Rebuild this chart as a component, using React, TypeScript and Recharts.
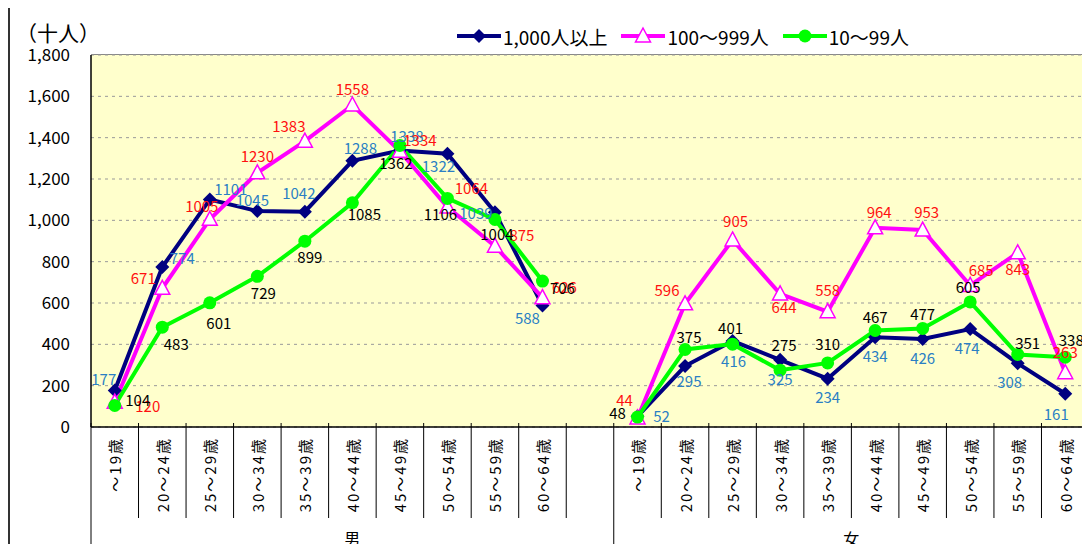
import React from 'react'
import { LineChart, Line, XAxis, YAxis, CartesianGrid, LabelList } from 'recharts'

const ageGroups = ['～19歳', '20～24歳', '25～29歳', '30～34歳', '35～39歳', '40～44歳', '45～49歳', '50～54歳', '55～59歳', '60～64歳']
const yTicks = [0, 200, 400, 600, 800, 1000, 1200, 1400, 1600, 1800]

// 男
const male1000 = [177, 774, 1101, 1045, 1042, 1288, 1338, 1322, 1039, 588]
const male100 = [120, 671, 1005, 1230, 1383, 1558, 1334, 1064, 875, 626]
const male10 = [104, 483, 601, 729, 899, 1085, 1362, 1106, 1004, 706]
// 女
const female1000 = [52, 295, 416, 325, 234, 434, 426, 474, 308, 161]
const female100 = [44, 596, 905, 644, 558, 964, 953, 685, 843, 263]
const female10 = [48, 375, 401, 275, 310, 467, 477, 605, 351, 338]

// data label nudges [dx, dy] (Excel placed each label by hand)
const largeOffM = [[-11, -12], [20, -10], [21, -11], [-5, -12], [-6, -19], [8, -13], [7, -15], [-9, 12], [-19, 0], [-15, 12]]
const largeOffF = [[24, -1], [4, 14], [1, 19], [0, 19], [0, 18], [0, 18], [0, 19], [-3, 18], [-8, 18], [-9, 20]]
const midOffM = [[33, 3], [-19, -11], [-8, -14], [0, -17], [-16, -16], [0, -17], [20, -12], [24, -20], [27, -12], [22, -11]]
const midOffF = [[-13, -18], [-18, -14], [3, -19], [4, 13], [0, -22], [4, -16], [4, -19], [11, -16], [0, 16], [0, -21]]
const smallOffM = [[23, -6], [14, 16], [9, 20], [6, 16], [5, 15], [12, 11], [-4, 17], [-7, 15], [2, 14], [20, 6]]
const smallOffF = [[-20, -5], [4, -13], [-2, -17], [4, -26], [0, -19], [0, -14], [0, -15], [-2, -15], [10, -12], [6, -18]]

const rows = [
  ...ageGroups.map((age, i) => ({ age, gender: '男', large: male1000[i], mid: male100[i], small: male10[i] })),
  { age: '', gender: '男', large: null, mid: null, small: null },
  ...ageGroups.map((age, i) => ({ age, gender: '女', large: female1000[i], mid: female100[i], small: female10[i] })),
]
const join = (a, b) => [...a, null, ...b]
const largeOff = join(largeOffM, largeOffF)
const midOff = join(midOffM, midOffF)
const smallOff = join(smallOffM, smallOffF)

const FONT = "'Noto Sans CJK JP', 'Noto Sans', sans-serif"
const W = 1080
const H = 546
const Y_AXIS_W = 81
const X_AXIS_H = 127
const PLOT_W = W - Y_AXIS_W - 1
const STEP = PLOT_W / rows.length

const NAVY = '#000080'
const MAGENTA = '#ff00ff'
const GREEN = '#00ff00'
const BLUE_TEXT = '#2a7fc4'
const RED_TEXT = '#ff1010'

function AgeTick(props) {
  const { x, y, payload } = props
  const i = props.index ?? payload.index
  const row = rows[i]
  if (!row) return null
  const half = STEP / 2
  const groupStart = i === 0 || rows[i - 1].gender !== row.gender
  const groupSize = rows.filter((r) => r.gender === row.gender).length
  const last = i === rows.length - 1
  return (
    <g>
      <line x1={x - half} x2={x - half} y1={y - 4} y2={groupStart ? y + X_AXIS_H : y + 91} stroke="#000" strokeWidth={1} />
      {last && <line x1={x + half} x2={x + half} y1={y - 4} y2={y + X_AXIS_H} stroke="#000" strokeWidth={1} />}
      <text
        x={x}
        y={y + 10}
        transform={`rotate(-90 ${x} ${y + 10})`}
        textAnchor="end"
        dominantBaseline="central"
        fontSize={15}
        letterSpacing={2}
        fontFamily={FONT}
        fill="#000"
      >
        {payload.value}
      </text>
      {groupStart && (
        <text x={x - half + (groupSize * STEP) / 2} y={y + 111} textAnchor="middle" dominantBaseline="central" fontSize={16} fontFamily={FONT} fill="#000">
          {row.gender}
        </text>
      )}
    </g>
  )
}

const makeLabel = (offsets, color) => (props) => {
  const { value, index } = props
  const x = props.x ?? props.viewBox?.x
  const y = props.y ?? props.viewBox?.y
  if (value == null || x == null || y == null || !offsets[index]) return null
  const [dx, dy] = offsets[index]
  return (
    <text x={x + dx} y={y + dy} fill={color} fontSize={15} fontFamily={FONT} textAnchor="middle" dominantBaseline="central">
      {value}
    </text>
  )
}

const Diamond = ({ cx, cy }) => (
  <polygon points={`${cx},${cy - 7} ${cx + 7},${cy} ${cx},${cy + 7} ${cx - 7},${cy}`} fill={NAVY} />
)
const Triangle = ({ cx, cy }) => (
  <polygon points={`${cx},${cy - 8} ${cx + 7.5},${cy + 6} ${cx - 7.5},${cy + 6}`} fill="#fff" stroke={MAGENTA} strokeWidth={1.5} />
)
const Circle = ({ cx, cy }) => <circle cx={cx} cy={cy} r={6.5} fill={GREEN} />

const dotOf = (Shape) => (p) => {
  if (p.cx == null || p.cy == null || p.value == null) return <g key={`e-${p.index}`} />
  return <Shape key={`d-${p.index}`} cx={p.cx} cy={p.cy} />
}

const legendItems = [
  { name: '1,000人以上', color: NAVY, Shape: Diamond },
  { name: '100～999人', color: MAGENTA, Shape: Triangle },
  { name: '10～99人', color: GREEN, Shape: Circle },
]

const xPad = { left: STEP / 2, right: STEP / 2 }

export default function App() {
  return (
    <div
      style={{
        position: 'relative',
        width: W,
        height: H,
        marginTop: -2,
        marginBottom: -10,
        borderTop: '2px solid #333',
        borderLeft: '2px solid #333',
        background: '#fff',
        fontFamily: FONT,
      }}
    >
      <div style={{ position: 'absolute', left: 6, top: 10, fontSize: 21, lineHeight: '28px', color: '#000', fontFeatureSettings: '"fwid"' }}>（十人）</div>
      <div style={{ position: 'absolute', left: 447, top: 17, height: 22, display: 'flex', alignItems: 'center', fontSize: 19, color: '#000', zIndex: 2 }}>
        {legendItems.map(({ name, color, Shape }) => (
          <div key={name} style={{ display: 'flex', alignItems: 'center', marginRight: 14 }}>
            <svg width={44} height={20}>
              <line x1={0} x2={44} y1={10} y2={10} stroke={color} strokeWidth={4} />
              <Shape cx={22} cy={10} />
            </svg>
            <span style={{ marginLeft: 2, whiteSpace: 'nowrap' }}>{name}</span>
          </div>
        ))}
      </div>
      {/* plot frame: gray top/right edges like the Excel original */}
      <div style={{ position: 'absolute', left: Y_AXIS_W, top: 46, width: PLOT_W, height: 0, borderTop: '2px solid #888' }} />
      <div style={{ position: 'absolute', left: Y_AXIS_W + PLOT_W - 1, top: 46, width: 0, height: H - X_AXIS_H - 46, borderLeft: '2px solid #888' }} />
      <LineChart width={W} height={H} data={rows} margin={{ top: 47, right: 1, left: 0, bottom: 0 }}>
        <CartesianGrid vertical={false} horizontal stroke="#999" strokeDasharray="3 4" fill="#ffffcc" fillOpacity={1} />
        <XAxis
          dataKey="age"
          interval={0}
          padding={xPad}
          height={X_AXIS_H}
          tickLine={false}
          tickSize={0}
          tickMargin={0}
          axisLine={{ stroke: '#000', strokeWidth: 1.5 }}
          tick={AgeTick}
        />
        <YAxis
          width={Y_AXIS_W}
          domain={[0, 1800]}
          ticks={yTicks}
          interval={0}
          tickLine={false}
          tickSize={0}
          tickMargin={21}
          axisLine={{ stroke: '#000', strokeWidth: 1.5 }}
          tick={{ fill: '#000', fontSize: 17, fontFamily: FONT }}
          tickFormatter={(v) => v.toLocaleString('en-US')}
        />
        <Line dataKey="large" stroke={NAVY} strokeWidth={4} dot={dotOf(Diamond)} activeDot={false} isAnimationActive={false}>
          <LabelList dataKey="large" content={makeLabel(largeOff, BLUE_TEXT)} />
        </Line>
        <Line dataKey="mid" stroke={MAGENTA} strokeWidth={4} dot={dotOf(Triangle)} activeDot={false} isAnimationActive={false}>
          <LabelList dataKey="mid" content={makeLabel(midOff, RED_TEXT)} />
        </Line>
        <Line dataKey="small" stroke={GREEN} strokeWidth={4} dot={dotOf(Circle)} activeDot={false} isAnimationActive={false}>
          <LabelList dataKey="small" content={makeLabel(smallOff, '#000')} />
        </Line>
      </LineChart>
    </div>
  )
}
